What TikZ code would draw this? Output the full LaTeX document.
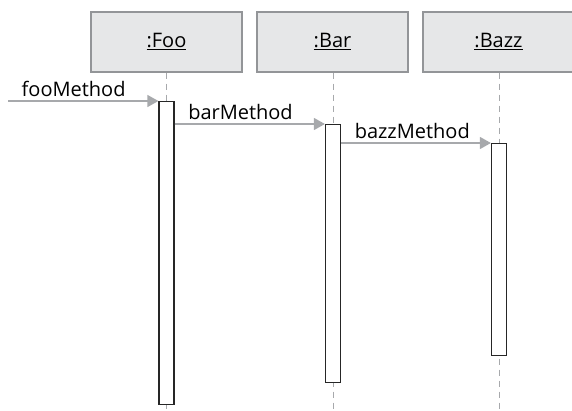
\documentclass[tikz,border=0pt]{standalone}
\usepackage{fontspec}
\setmainfont{Open Sans}
\usetikzlibrary{arrows.meta}
\definecolor{headfill}{HTML}{E6E7E8}
\definecolor{headdraw}{HTML}{939598}
\definecolor{msggray}{HTML}{A7A9AC}

\begin{document}
\begin{tikzpicture}[x=1pt, y=-1pt,
    >={Triangle[width=12pt, length=11pt]},
    header/.style={draw=headdraw, fill=headfill, line width=1.2pt,
        minimum width=151pt, minimum height=60pt, inner sep=0pt,
        font=\fontsize{20}{24}\selectfont},
    lifeline/.style={draw=msggray, line width=1pt, dash pattern=on 6pt off 5pt},
    activation/.style={draw=black!85, fill=white, line width=1.2pt,
        minimum width=15pt, inner sep=0pt, anchor=north},
    message/.style={draw=msggray, fill=msggray, line width=1.3pt, ->},
    msglabel/.style={anchor=south west, inner sep=4pt, xshift=9pt,
        font=\fontsize{20}{24}\selectfont}]
    \useasboundingbox (0,0) rectangle (572,410);

    % ==== OBJECTS ====
    \node[header] (foo)  at (166.5,42) {\underline{:Foo}};
    \node[header] (bar)  at (332.5,42) {\underline{:Bar}};
    \node[header] (bazz) at (498.5,42) {\underline{:Bazz}};

    % ==== LIFELINES ====
    \coordinate (fooEnd)  at (166.5,410);
    \coordinate (barEnd)  at (333,410);
    \coordinate (bazzEnd) at (499,410);
    \draw[lifeline] (foo.south)  -- (fooEnd);
    \draw[lifeline] (bar.south -| barEnd)  -- (barEnd);
    \draw[lifeline] (bazz.south -| bazzEnd) -- (bazzEnd);

    % ==== ACTIVATIONS ====
    \node[activation, minimum height=303pt] (fooAct)  at (166.5,101) {};
    \node[activation, minimum height=258pt] (barAct)  at (333,124) {};
    \node[activation, minimum height=212pt] (bazzAct) at (499,143) {};

    % ==== MESSAGES ====
    \coordinate (caller) at (8,101);
    \draw[message] (caller) -- (fooAct.north west)
        node[msglabel, pos=0] {fooMethod};
    \draw[message] (fooAct.east |- barAct.north west) -- (barAct.north west)
        node[msglabel, pos=0] {barMethod};
    \draw[message] (barAct.east |- bazzAct.north west) -- (bazzAct.north west)
        node[msglabel, pos=0] {bazzMethod};
\end{tikzpicture}
\end{document}
